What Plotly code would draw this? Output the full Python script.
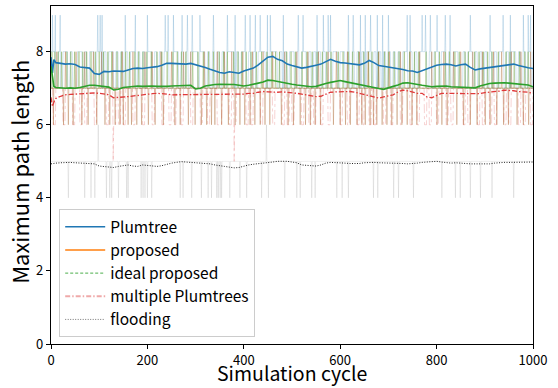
import plotly.graph_objects as go

# ---------------- data ----------------
cycles = list(range(0, 1001))
smooth_x = [0, 3, 6] + list(range(10, 1001, 10))

plumtree_smooth = [7.85, 7.42, 7.78,
    7.70, 7.68, 7.66, 7.67, 7.65, 7.58, 7.56, 7.55, 7.40, 7.38,
    7.46, 7.45, 7.47, 7.47, 7.46, 7.50, 7.54, 7.55, 7.54, 7.56,
    7.57, 7.59, 7.63, 7.68, 7.68, 7.67, 7.66, 7.66, 7.68, 7.65,
    7.60, 7.57, 7.52, 7.47, 7.43, 7.41, 7.45, 7.43, 7.41, 7.47,
    7.51, 7.55, 7.64, 7.75, 7.85, 7.87, 7.79, 7.75, 7.66, 7.62,
    7.58, 7.55, 7.57, 7.61, 7.63, 7.66, 7.72, 7.79, 7.74, 7.70,
    7.69, 7.68, 7.67, 7.64, 7.68, 7.76, 7.70, 7.62, 7.60, 7.58,
    7.57, 7.54, 7.51, 7.48, 7.47, 7.43, 7.48, 7.52, 7.57, 7.63,
    7.65, 7.66, 7.64, 7.61, 7.64, 7.66, 7.57, 7.50, 7.53, 7.55,
    7.56, 7.57, 7.59, 7.62, 7.65, 7.66, 7.62, 7.58, 7.56, 7.54]

ideal_smooth = [7.60, 7.25, 7.05,
    7.02, 7.00, 7.00, 7.01, 7.00, 7.02, 7.05, 7.08, 7.08, 7.06,
    7.05, 7.03, 6.95, 6.97, 7.02, 7.04, 7.05, 7.06, 7.05, 7.06,
    7.06, 7.05, 7.04, 7.05, 7.06, 7.07, 7.08, 7.09, 7.08, 6.98,
    7.00, 7.06, 7.09, 7.10, 7.11, 7.11, 7.11, 7.10, 7.08, 7.06,
    7.08, 7.12, 7.14, 7.17, 7.22, 7.21, 7.18, 7.15, 7.13, 7.11,
    7.09, 7.07, 7.06, 7.04, 7.05, 7.10, 7.13, 7.16, 7.19, 7.21,
    7.18, 7.15, 7.12, 7.11, 7.08, 7.03, 7.00, 6.99, 6.97, 7.00,
    7.05, 7.09, 7.14, 7.15, 7.12, 7.09, 7.08, 7.06, 7.04, 7.05,
    7.06, 7.06, 7.04, 7.03, 7.02, 7.01, 7.00, 7.01, 7.06, 7.10,
    7.13, 7.14, 7.15, 7.15, 7.14, 7.13, 7.12, 7.11, 7.09, 7.04]

multiple_smooth = [6.75, 6.50, 6.62,
    6.72, 6.78, 6.82, 6.83, 6.84, 6.85, 6.86, 6.86, 6.87, 6.86,
    6.84, 6.82, 6.74, 6.74, 6.76, 6.77, 6.79, 6.81, 6.83, 6.84,
    6.85, 6.86, 6.86, 6.84, 6.82, 6.82, 6.82, 6.82, 6.82, 6.82,
    6.82, 6.82, 6.82, 6.82, 6.82, 6.82, 6.82, 6.82, 6.83, 6.84,
    6.86, 6.86, 6.89, 6.91, 6.90, 6.89, 6.89, 6.90, 6.89, 6.89,
    6.86, 6.84, 6.82, 6.79, 6.77, 6.78, 6.84, 6.89, 6.90, 6.91,
    6.91, 6.91, 6.89, 6.86, 6.84, 6.80, 6.76, 6.73, 6.76, 6.80,
    6.82, 6.90, 6.95, 6.93, 6.89, 6.86, 6.86, 6.76, 6.74, 6.80,
    6.86, 6.86, 6.86, 6.86, 6.86, 6.85, 6.85, 6.84, 6.85, 6.88,
    6.89, 6.90, 6.92, 6.95, 6.95, 6.93, 6.91, 6.91, 6.89, 6.86]

flooding_smooth = [4.93, 4.94, 4.95,
    4.95, 4.96, 4.97, 4.97, 4.96, 4.95, 4.95, 4.95, 4.93, 4.87,
    4.86, 4.85, 4.83, 4.86, 4.89, 4.90, 4.87, 4.86, 4.90, 4.88,
    4.86, 4.86, 4.88, 4.92, 4.95, 4.97, 4.99, 4.98, 4.97, 4.96,
    4.95, 4.94, 4.93, 4.90, 4.87, 4.86, 4.84, 4.82, 4.83, 4.87,
    4.90, 4.92, 4.93, 4.96, 4.97, 4.98, 5.00, 5.01, 5.00, 4.98,
    4.96, 4.90, 4.89, 4.88, 4.87, 4.90, 4.95, 4.97, 4.97, 4.97,
    4.95, 4.94, 4.93, 4.94, 4.96, 4.97, 4.97, 4.96, 4.96, 4.96,
    4.95, 4.94, 4.94, 4.93, 4.93, 4.95, 4.97, 4.98, 4.99, 5.00,
    4.98, 4.96, 4.95, 4.96, 4.96, 4.94, 4.93, 4.93, 4.92, 4.92,
    4.93, 4.95, 4.97, 4.97, 4.97, 4.97, 4.98, 4.98, 4.98, 4.98]

# raw samples: 7/8 levels in 5-cycle blocks, plus single-cycle spikes
plumtree_blocks = ("8878788787" "7887878878" "8787887878" "7878878787" "8878787887"
                   "7887878788" "8788787878" "7878887878" "8787878887" "7888787878"
                   "8787887878" "7878787887" "8878787878" "7887878787" "8787878878"
                   "7878887878" "8788787887" "7878878787" "8787878878" "7887878787" "8")
plumtree_spikes9 = [3, 9, 19, 97, 102, 106, 154, 175, 200, 237, 243, 254, 272, 283, 293,
                    309, 337, 366, 382, 403, 413, 424, 434, 449, 455, 482, 513, 523, 552,
                    565, 575, 580, 617, 627, 642, 652, 663, 677, 688, 700, 739, 745, 770,
                    777, 787, 801, 818, 828, 870, 911, 938, 953, 980, 990, 995]

proposed_base = 7
proposed_dips6 = [5, 26, 36, 46, 64, 77, 95, 112, 122, 133, 143, 150, 160, 167, 178, 188,
                  202, 216, 233, 257, 268, 285, 299, 312, 323, 333, 340, 354, 368, 382,
                  392, 402, 413, 423, 434, 444, 454, 478, 492, 503, 517, 528, 538, 548,
                  559, 586, 600, 611, 621, 635, 645, 652, 662, 669, 676, 687, 697, 707,
                  718, 728, 739, 749, 759, 801, 811, 822, 842, 856, 870, 884, 901, 911,
                  925, 939, 949, 967, 980, 991]
proposed_spikes8 = [12, 30, 52, 70, 88, 105, 128, 148, 170, 195, 210, 228, 250, 275, 290,
                    318, 345, 360, 375, 398, 418, 440, 460, 485, 510, 533, 555, 575, 592,
                    615, 640, 658, 680, 702, 725, 745, 765, 790, 815, 835, 850, 875, 895,
                    918, 935, 955, 975, 995]

ideal_base = 7
ideal_spikes8 = [2, 8, 15, 22, 33, 41, 49, 58, 66, 74, 83, 92, 100, 109, 118, 126, 137,
                 146, 155, 163, 174, 182, 191, 199, 208, 220, 230, 241, 253, 262, 271,
                 280, 294, 305, 316, 327, 337, 349, 358, 366, 379, 388, 396, 405, 415,
                 426, 437, 448, 458, 466, 474, 489, 498, 507, 521, 531, 542, 552, 563,
                 572, 581, 596, 606, 617, 626, 638, 649, 659, 666, 679, 692, 700, 712,
                 722, 733, 744, 754, 763, 778, 797, 806, 818, 827, 838, 847, 859, 866,
                 879, 888, 897, 906, 915, 928, 944, 952, 961, 972, 983, 990]

multiple_blocks = ("7677767776" "7767677767" "7776776767" "6777677767" "7767776776"
                   "7677677767" "7767767776" "6777676777" "7676777677" "7767776767"
                   "6777677676" "7767767777" "6776777676" "7767677767" "7677767776"
                   "7767767677" "6777676777" "7676777676" "7767677767" "6777676776" "7")
multiple_dips5 = [129, 380]

flooding_base = 5
flooding_dips4 = [36, 70, 83, 91, 115, 122, 126, 140, 157, 160, 187, 191, 195, 200, 209,
                  268, 274, 292, 312, 326, 333, 344, 347, 351, 354, 371, 392, 406, 437,
                  451, 485, 510, 517, 541, 548, 593, 604, 617, 669, 678, 711, 721, 752,
                  811, 839, 849, 870, 891, 915, 960]
flooding_rises6 = [98, 447]

# ---------------- build raw series ----------------
plumtree_raw = [int(plumtree_blocks[c // 5]) for c in cycles]
for c in plumtree_spikes9:
    plumtree_raw[c] = 9

proposed_raw = [proposed_base for c in cycles]
for c in proposed_dips6:
    proposed_raw[c] = 6
for c in proposed_spikes8:
    proposed_raw[c] = 8

ideal_raw = [ideal_base for c in cycles]
for c in ideal_spikes8:
    ideal_raw[c] = 8

multiple_raw = [int(multiple_blocks[c // 5]) for c in cycles]
for c in multiple_dips5:
    multiple_raw[c] = 5

flooding_raw = [flooding_base for c in cycles]
for c in flooding_dips4:
    flooding_raw[c] = 4
for c in flooding_rises6:
    flooding_raw[c] = 6

BLUE = "31,119,180"
ORANGE = "170,100,45"
GREEN = "90,150,40"
RED = "214,39,40"

fig = go.Figure()

def raw(y, rgb, a, dash="solid", w=1.0):
    fig.add_trace(go.Scatter(x=cycles, y=y, mode="lines", showlegend=False, hoverinfo="skip",
                             line=dict(color=f"rgba({rgb},{a})", width=w, dash=dash, simplify=False)))

raw(plumtree_raw, BLUE, 0.2)
raw(ideal_raw, GREEN, 0.35)
raw(proposed_raw, ORANGE, 0.35)
raw(multiple_raw, RED, 0.2, "dashdot")
raw(flooding_raw, "0,0,0", 0.08)

def smooth(y, color, dash, w):
    fig.add_trace(go.Scatter(x=smooth_x, y=y, mode="lines", showlegend=False, hoverinfo="skip",
                             line=dict(color=color, width=w, dash=dash)))

smooth(plumtree_smooth, "#1f77b4", "solid", 1.6)
smooth(ideal_smooth, "#2ca02c", "solid", 1.6)
smooth(multiple_smooth, "#e0393a", "5px,2px,1.5px,2px", 1.3)
smooth(flooding_smooth, "#222222", "1px,1.5px", 1.0)

# legend entries
legend_items = [
    ("Plumtree", "#1f77b4", "solid", 1.5),
    ("proposed", "#ff7f0e", "solid", 1.5),
    ("ideal proposed", "rgba(44,160,44,0.85)", "3px,2px", 1.0),
    ("multiple Plumtrees", "rgba(214,39,40,0.4)", "5px,2px,1.5px,2px", 2.0),
    ("flooding", "rgba(0,0,0,0.55)", "1px,1.5px", 1.0),
]
for name, col, dash, w in legend_items:
    fig.add_trace(go.Scatter(x=[None], y=[None], mode="lines", name=name,
                             line=dict(color=col, width=w, dash=dash)))

FONT = "Noto Sans CJK JP, Noto Sans, sans-serif"
fig.update_layout(
    width=558, height=388,
    margin=dict(l=51, r=25, t=6, b=44, autoexpand=False),
    paper_bgcolor="white", plot_bgcolor="white",
    font=dict(family=FONT, size=13, color="black"),
    showlegend=True,
    legend=dict(x=0.017, y=0.02, xanchor="left", yanchor="bottom",
                bgcolor="rgba(255,255,255,0.85)", bordercolor="#cccccc", borderwidth=1,
                font=dict(size=15.5, family=FONT), itemwidth=40),
    annotations=[
        dict(text="Simulation cycle", xref="paper", yref="paper", x=0.5, y=-0.085,
             xanchor="center", yanchor="middle", showarrow=False,
             font=dict(size=19.5, family=FONT)),
        dict(text="Maximum path length", xref="paper", yref="paper", x=-0.068, y=0.51,
             xanchor="center", yanchor="middle", showarrow=False, textangle=-90,
             font=dict(size=22, family=FONT)),
    ],
)
fig.update_xaxes(range=[0, 1000], tickvals=[0, 200, 400, 600, 800, 1000],
                 showline=True, linecolor="black", linewidth=1.2, mirror=True,
                 ticks="outside", ticklen=4, tickwidth=1.2, tickcolor="black",
                 showgrid=False, zeroline=False, automargin=False)
fig.update_yaxes(range=[0, 9.25], tickvals=[0, 2, 4, 6, 8],
                 showline=True, linecolor="black", linewidth=1.2, mirror=True,
                 ticks="outside", ticklen=4, tickwidth=1.2, tickcolor="black",
                 showgrid=False, zeroline=False, automargin=False)

fig.write_html("out.html", config={"displayModeBar": False},
               post_script="document.body.style.margin='0';document.body.style.padding='0';")
